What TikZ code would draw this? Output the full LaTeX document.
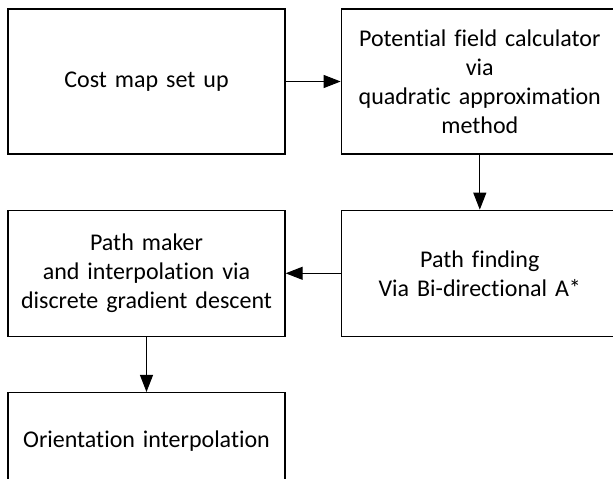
\documentclass[tikz,border=0pt]{standalone}
\usepackage{fontspec}
\setmainfont[Ligatures=NoCommon,WordSpace=0.85]{Carlito}
\usepackage{tikz}
\usetikzlibrary{arrows.meta,positioning}
\tikzset{
  blockbox/.style = {rectangle, draw=black, line width=1.3pt, align=center,
    text width=270pt, minimum width=277pt, inner sep=0pt,
    font=\fontsize{24pt}{29pt}\selectfont},
  bigbox/.style = {blockbox, minimum height=145pt},% first row
  midbox/.style = {blockbox, minimum height=126pt},% second row
  lowbox/.style = {blockbox, minimum height=96pt}% last box, cut by page
}
\begin{document}
\begin{tikzpicture}[->,>={Triangle[length=17pt,width=13pt]},
  line width=1pt, node distance=55pt]
\useasboundingbox (0,0) rectangle (613pt,-479pt);
\node [bigbox] (costmap) at (146.5pt,-81.5pt) {Cost map set up};
\node [bigbox, right=of costmap] (potfield) {Potential field calculator\\via\\quadratic approximation\\method};
\node [midbox, below=of potfield] (pathfind) {Path finding\\Via Bi-directional A*};
\node [midbox, left=of pathfind] (pathmaker) {Path maker\\and interpolation via\\discrete gradient descent};
\node [lowbox, below=of pathmaker] (orient) {Orientation interpolation};
\draw (costmap) -- (potfield);
\draw (potfield) -- (pathfind);
\draw (pathfind) -- (pathmaker);
\draw (pathmaker) -- (orient);
\end{tikzpicture}
\end{document}
